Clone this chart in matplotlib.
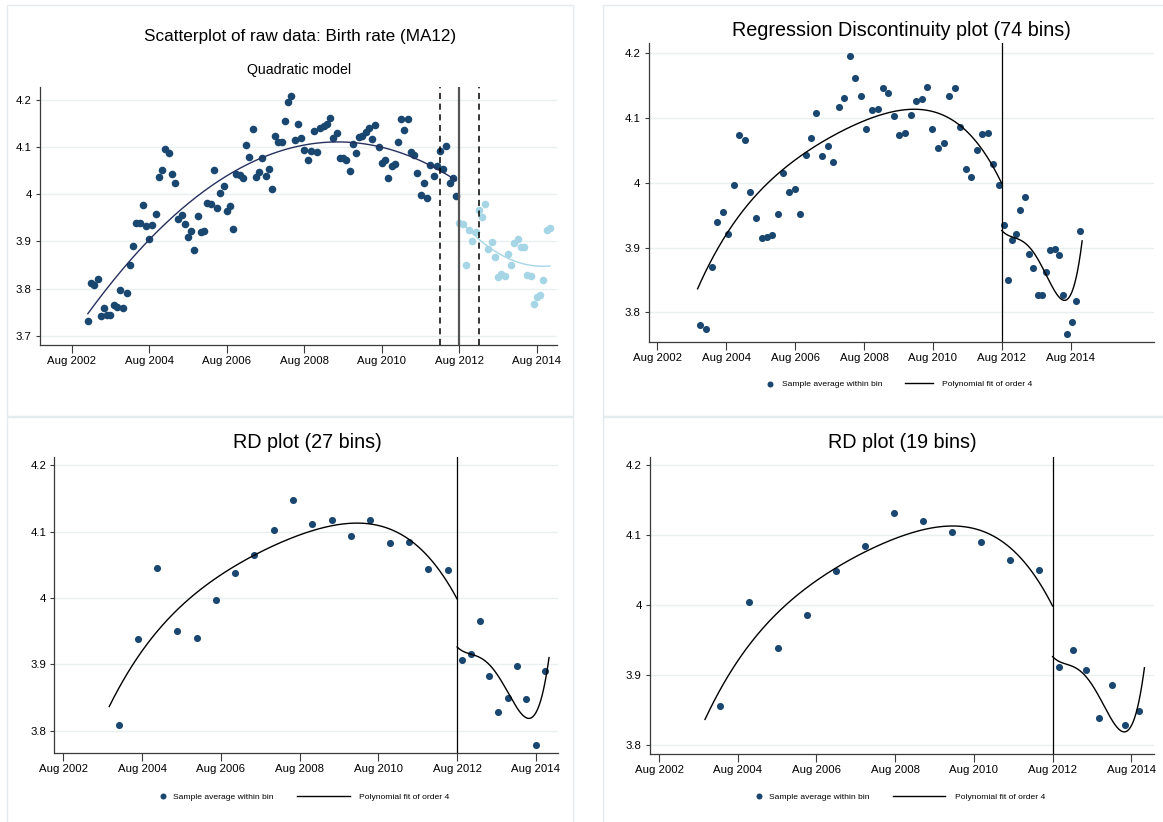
import numpy as np
import matplotlib
matplotlib.use('Agg')
from matplotlib import pyplot as plt
from matplotlib.patches import Rectangle

plt.rc('font', family='Liberation Sans', size=8.2)

navy = '#1a476f'
light_blue = '#a6d6e6'
fit_navy = '#26305e'
grid_col = '#e8f0f2'
border_col = '#e3ebee'

# months relative to Aug 2012 (cutoff = 0)
tick_months = [-120, -96, -72, -48, -24, 0, 24]
tick_labels = ['Aug 2002', 'Aug 2004', 'Aug 2006', 'Aug 2008',
               'Aug 2010', 'Aug 2012', 'Aug 2014']
yticks_raw = [3.7, 3.8, 3.9, 4.0, 4.1, 4.2]
ylabels_raw = ['3.7', '3.8', '3.9', '4', '4.1', '4.2']
yticks_rd = [3.8, 3.9, 4.0, 4.1, 4.2]
ylabels_rd = ['3.8', '3.9', '4', '4.1', '4.2']

# raw monthly data (MA12)
months_before = np.arange(-115, 0)
rate_before = [
    3.731, 3.812, 3.807, 3.820, 3.741, 3.758, 3.745, 3.745, 3.765, 3.761,
    3.798, 3.758, 3.790, 3.849, 3.891, 3.940, 3.939, 3.977, 3.933, 3.906,
    3.935, 3.959, 4.036, 4.052, 4.096, 4.087, 4.043, 4.024, 3.948, 3.955,
    3.937, 3.909, 3.922, 3.881, 3.953, 3.920, 3.923, 3.982, 3.980, 4.051,
    3.970, 4.002, 4.017, 3.965, 3.975, 3.927, 4.043, 4.041, 4.035, 4.104,
    4.078, 4.137, 4.036, 4.046, 4.077, 4.039, 4.053, 4.012, 4.123, 4.110,
    4.110, 4.154, 4.195, 4.208, 4.114, 4.148, 4.120, 4.094, 4.073, 4.092,
    4.133, 4.089, 4.140, 4.145, 4.148, 4.161, 4.118, 4.130, 4.076, 4.076,
    4.073, 4.050, 4.107, 4.088, 4.121, 4.123, 4.131, 4.140, 4.117, 4.147,
    4.100, 4.067, 4.072, 4.035, 4.060, 4.063, 4.110, 4.159, 4.135, 4.159,
    4.090, 4.082, 4.044, 3.999, 4.024, 3.992, 4.062, 4.039, 4.059, 4.092,
    4.054, 4.102, 4.024, 4.035, 3.997]
months_after = np.arange(0, 29)
rate_after = [
    3.938, 3.936, 3.849, 3.924, 3.901, 3.920, 3.966, 3.952, 3.979, 3.883,
    3.898, 3.868, 3.824, 3.830, 3.827, 3.874, 3.849, 3.896, 3.906, 3.888,
    3.889, 3.829, 3.826, 3.768, 3.782, 3.786, 3.819, 3.924, 3.928]

# 74 bins
b74_x_left = [-105.0, -103.0, -101.1, -99.2, -97.2, -95.3, -93.3, -91.4, -89.6, -87.6,
              -85.7, -83.7, -81.8, -79.9, -77.9, -76.1, -74.2, -72.2, -70.3, -68.3,
              -66.4, -64.6, -62.6, -60.7, -58.7, -56.8, -54.9, -52.9, -51.0, -49.0,
              -47.2, -45.3, -43.3, -41.4, -39.5, -37.6, -35.7, -33.8, -31.8, -29.9,
              -27.9, -26.0, -24.2, -22.2, -20.3, -18.3, -16.4, -14.6, -12.6, -10.7,
              -8.8, -6.8, -4.9, -2.9, -1.0]
b74_y_left = [3.780, 3.774, 3.870, 3.940, 3.955, 3.921, 3.997, 4.074, 4.065, 3.986,
              3.945, 3.915, 3.916, 3.919, 3.952, 4.014, 3.986, 3.990, 3.951, 4.042,
              4.069, 4.107, 4.041, 4.057, 4.032, 4.116, 4.131, 4.195, 4.161, 4.134,
              4.083, 4.112, 4.114, 4.146, 4.138, 4.103, 4.074, 4.077, 4.104, 4.126,
              4.128, 4.147, 4.083, 4.053, 4.061, 4.134, 4.146, 4.086, 4.021, 4.008,
              4.050, 4.075, 4.077, 4.029, 3.997]
b74_x_right = [0.6, 2.1, 3.5, 5.1, 6.5, 8.1, 9.5, 10.9, 12.5, 13.9,
               15.5, 16.9, 18.4, 19.9, 21.3, 22.7, 24.3, 25.7, 27.2]
b74_y_right = [3.935, 3.850, 3.912, 3.921, 3.958, 3.978, 3.890, 3.868, 3.827, 3.827,
               3.862, 3.896, 3.897, 3.889, 3.827, 3.767, 3.785, 3.818, 3.926]

# 27 bins
b27_x_left = [-103.1, -97.1, -91.3, -85.4, -79.4, -73.6, -67.7, -61.9, -55.9,
              -50.0, -44.2, -38.2, -32.3, -26.5, -20.6, -14.6, -8.8, -2.9]
b27_y_left = [3.809, 3.939, 4.046, 3.950, 3.940, 3.997, 4.038, 4.065, 4.102,
              4.147, 4.112, 4.118, 4.094, 4.117, 4.083, 4.085, 4.044, 4.042]
b27_x_right = [1.4, 4.2, 7.0, 9.8, 12.6, 15.4, 18.3, 21.1, 23.9, 26.7]
b27_y_right = [3.907, 3.916, 3.966, 3.883, 3.828, 3.850, 3.897, 3.848, 3.779, 3.890]

# 19 bins
b19_x_left = [-101.5, -92.7, -83.8, -75.0, -66.1, -57.3, -48.5, -39.6, -30.8,
              -21.9, -13.1, -4.2]
b19_y_left = [3.856, 4.005, 3.939, 3.985, 4.049, 4.084, 4.131, 4.120, 4.105,
              4.090, 4.065, 4.050]
b19_x_right = [2.1, 6.1, 10.1, 14.1, 18.1, 22.1, 26.2]
b19_y_right = [3.911, 3.935, 3.907, 3.839, 3.885, 3.828, 3.848]

# points read along the order-4 polynomial fit (same in all RD plots)
fit4_x_left = [-106, -95.1, -82.2, -69.2, -56.3, -43.3, -30.4, -22.6, -14.8, -7.1, 0]
fit4_y_left = [3.835, 3.930, 3.994, 4.043, 4.078, 4.104, 4.113, 4.108, 4.089, 4.050, 4.000]
fit4_x_right = [0, 3.4, 6.5, 9.8, 13.6, 17.5, 21.5, 23.4, 26.0, 27.9]
fit4_y_right = [3.927, 3.914, 3.913, 3.902, 3.871, 3.840, 3.821, 3.822, 3.855, 3.907]

W, H = 1163, 822


def fx(x):
    return x / W


def fy(y):
    return 1 - y / H


fig = plt.figure(figsize=(W / 100, H / 100), dpi=100)

for x0, y0 in [(7.3, 5), (603, 5), (7.3, 416.5), (603, 416.5)]:
    fig.patches.append(Rectangle((fx(x0), fy(y0 + 411)), 565.3 / W, 411 / H,
                                 transform=fig.transFigure, fill=False,
                                 ec=border_col, lw=1.0))


def style(ax, xlim, ylim, yticks, ylabels):
    ax.set_xlim(*xlim)
    ax.set_ylim(*ylim)
    ax.set_xticks(tick_months, tick_labels)
    ax.set_yticks(yticks, ylabels)
    for s in ['top', 'right']:
        ax.spines[s].set_visible(False)
    for s in ['left', 'bottom']:
        ax.spines[s].set_color('#3a3a3a')
        ax.spines[s].set_linewidth(0.9)
    ax.tick_params(axis='x', length=5.5, width=0.8, pad=2.5, color='#3a3a3a')
    ax.tick_params(axis='y', length=3, width=0.8, pad=3, color='#3a3a3a')
    ax.grid(axis='y', color=grid_col, lw=1.0)
    ax.set_axisbelow(True)


def fit_curve(xs, ys, x0, x1, deg):
    coef = np.polyfit(xs, ys, deg)
    xx = np.linspace(x0, x1, 300)
    return xx, np.polyval(coef, xx)


def rd_legend(ax, sc, ln, xm, xl, line_px, gap_m, gap_l, y):
    fpx = 6.1 * 100 / 72
    leg1 = ax.legend([sc], ['Sample average within bin'], loc='center left',
                     bbox_to_anchor=(fx(xm - fpx / 2), fy(y)), bbox_transform=fig.transFigure,
                     frameon=False, fontsize=6.1, handlelength=1.0,
                     handletextpad=(gap_m - fpx / 2) / fpx, borderpad=0, borderaxespad=0,
                     markerscale=0.85, scatterpoints=1)
    ax.add_artist(leg1)
    ax.legend([ln], ['Polynomial fit of order 4'], loc='center left',
              bbox_to_anchor=(fx(xl), fy(y)), bbox_transform=fig.transFigure,
              frameon=False, fontsize=6.1, handlelength=line_px / fpx,
              handletextpad=gap_l / fpx, borderpad=0, borderaxespad=0)


# top left: raw data, quadratic model
ax1 = fig.add_axes([fx(40), fy(344.8), 517 / W, (344.8 - 87) / H])
style(ax1, (-129.8, 30.2), (3.681, 4.227), yticks_raw, ylabels_raw)
ax1.scatter(months_before, rate_before, s=30, color=navy, linewidths=0, zorder=3)
ax1.scatter(months_after, rate_after, s=30, color=light_blue, linewidths=0, zorder=3)
xx, yy = fit_curve(months_before, rate_before, months_before[0], months_before[-1], 2)
ax1.plot(xx, yy, color=fit_navy, lw=1.0, zorder=4)
xx, yy = fit_curve(months_after, rate_after, months_after[0], months_after[-1], 2)
ax1.plot(xx, yy, color=light_blue, lw=1.0, zorder=4)
ax1.axvline(0, color='#555555', lw=1.6, zorder=5)
for v in (-6, 6):
    ax1.axvline(v, color='black', lw=1.1, dashes=(4, 3), zorder=5)

fig.text(fx(300), fy(37), 'Scatterplot of raw data: Birth rate (MA12)',
         ha='center', va='center', fontsize=12.3)
fig.text(fx(299.5), fy(70), 'Quadratic model', ha='center', va='center', fontsize=10.2)

# RD panels
panels = [
    ([fx(648.8), fy(342.3), 504.8 / W, (342.3 - 43.3) / H], (-123.0, 52.9), (3.754, 4.2145),
     b74_x_left, b74_y_left, b74_x_right, b74_y_right,
     'Regression Discontinuity plot (74 bins)', (901.5, 30.7),
     (770, 904.5, 28, 11.7, 9.5, 384.3)),
    ([fx(54.4), fy(753.3), 503.5 / W, (753.3 - 456.7) / H], (-122.7, 30.7), (3.766, 4.213),
     b27_x_left, b27_y_left, b27_x_right, b27_y_right,
     'RD plot (27 bins)', (307, 442.7),
     (162.8, 297, 53, 10.2, 9, 796.7)),
    ([fx(649.9), fy(754), 503.7 / W, (754 - 456.7) / H], (-122.8, 30.8), (3.787, 4.212),
     b19_x_left, b19_y_left, b19_x_right, b19_y_right,
     'RD plot (19 bins)', (902, 442.7),
     (758.8, 893.4, 52, 10.4, 9.3, 796.7)),
]

for rect, xlim, ylim, xl, yl, xr, yr, title, tpos, lg in panels:
    ax = fig.add_axes(rect)
    style(ax, xlim, ylim, yticks_rd, ylabels_rd)
    sc = ax.scatter(xl, yl, s=26, color=navy, linewidths=0, zorder=3)
    ax.scatter(xr, yr, s=26, color=navy, linewidths=0, zorder=3)
    xx, yy = fit_curve(fit4_x_left, fit4_y_left, -106, 0, 4)
    ln, = ax.plot(xx, yy, color='black', lw=1.0, zorder=4)
    xx, yy = fit_curve(fit4_x_right, fit4_y_right, 0, 28, 4)
    ax.plot(xx, yy, color='black', lw=1.0, zorder=4)
    ax.axvline(0, color='black', lw=0.9, zorder=5)
    fig.text(fx(tpos[0]), fy(tpos[1]), title, ha='center', va='center', fontsize=14.2)
    rd_legend(ax, sc, ln, *lg)

fig.savefig('out.png', dpi=100)
